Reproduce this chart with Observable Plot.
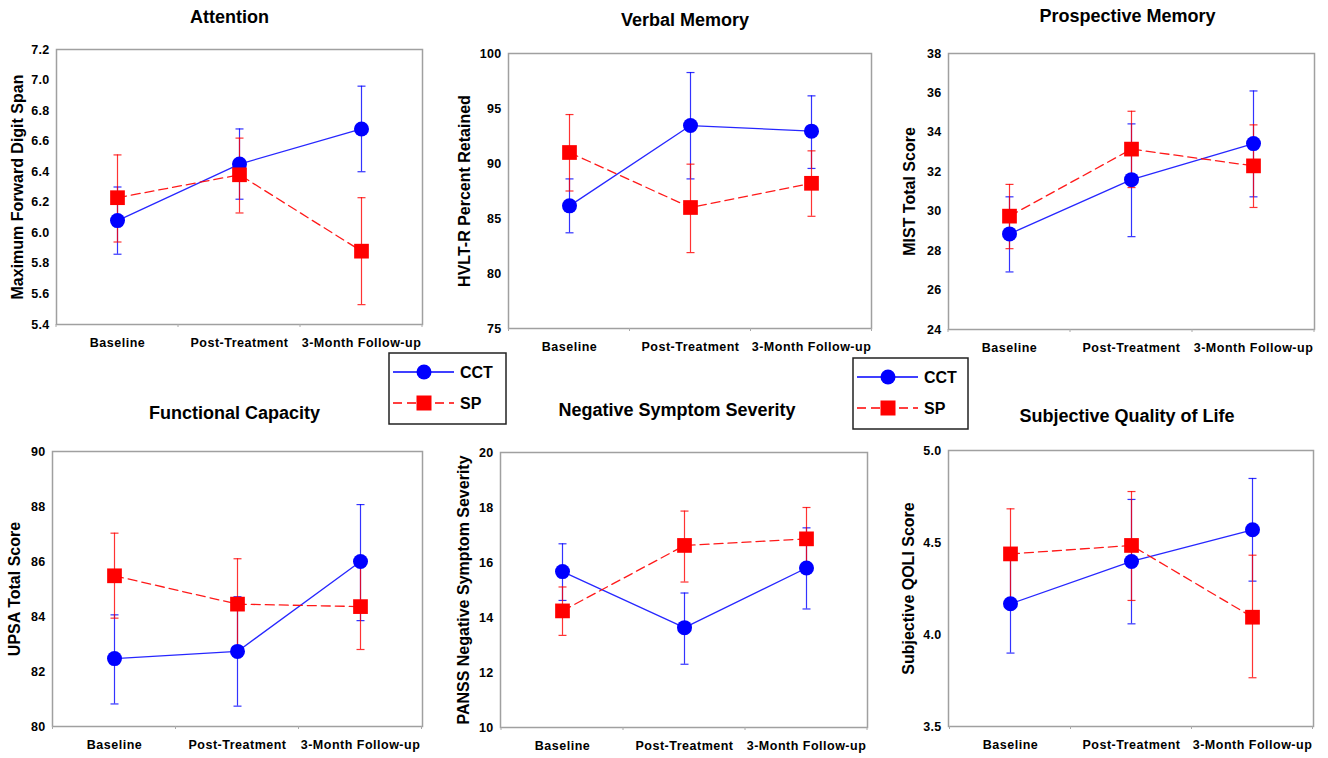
<!DOCTYPE html>
<html><head><meta charset="utf-8">
<script src="https://cdn.jsdelivr.net/npm/d3@7"></script>
<script src="https://cdn.jsdelivr.net/npm/@observablehq/plot@0.6"></script>
<style>
body{margin:0;background:#fff;}
#root{position:relative;width:1328px;height:758px;overflow:hidden;font-family:"Liberation Sans",Arial,sans-serif;background:#fff;}
#root svg{position:absolute;overflow:visible;}
#root svg text{font-weight:bold;}
#root g[aria-label="x-axis tick label"] text{letter-spacing:0.5px;}
#root g[aria-label="y-axis tick label"] text{letter-spacing:0.3px;}
</style></head><body><div id="root"></div>
<script>
// ---------- data ----------
const phases = ["Baseline", "Post-Treatment", "3-Month Follow-up"];
const groups = ["CCT", "SP"];
const titles = ["Attention", "Verbal Memory", "Prospective Memory", "Functional Capacity", "Negative Symptom Severity", "Subjective Quality of Life"];
const yLabels = ["Maximum Forward Digit Span", "HVLT-R Percent Retained", "MIST Total Score", "UPSA Total Score", "PANSS Negative Symptom Severity", "Subjective QOLI Score"];
const yDomains = [[5.4, 7.2], [75, 100], [24, 38], [80, 90], [10, 20], [3.5, 5.0]];
const yTicks = [
  [5.4, 5.6, 5.8, 6.0, 6.2, 6.4, 6.6, 6.8, 7.0, 7.2],
  [75, 80, 85, 90, 95, 100],
  [24, 26, 28, 30, 32, 34, 36, 38],
  [80, 82, 84, 86, 88, 90],
  [10, 12, 14, 16, 18, 20],
  [3.5, 4.0, 4.5, 5.0]
];
const yTickFormats = [".1f", "d", "d", "d", "d", ".1f"];

const attentionCCT = [6.08, 6.45, 6.68], attentionCCTLo = [5.86, 6.22, 6.40], attentionCCTHi = [6.30, 6.68, 6.96];
const attentionSP = [6.23, 6.38, 5.88], attentionSPLo = [5.94, 6.13, 5.53], attentionSPHi = [6.51, 6.62, 6.23];

const verbalCCT = [86.15, 93.45, 92.94], verbalCCTLo = [83.7, 88.6, 89.55], verbalCCTHi = [88.6, 98.27, 96.15];
const verbalSP = [91.0, 86.0, 88.2], verbalSPLo = [87.5, 81.9, 85.2], verbalSPHi = [94.45, 89.94, 91.15];

const prospectiveCCT = [28.85, 31.6, 33.43], prospectiveCCTLo = [26.92, 28.71, 30.73], prospectiveCCTHi = [30.73, 34.43, 36.1];
const prospectiveSP = [29.75, 33.15, 32.3], prospectiveSPLo = [28.1, 31.2, 30.19], prospectiveSPHi = [31.36, 35.07, 34.38];

const functionalCCT = [82.47, 82.73, 86.0], functionalCCTLo = [80.82, 80.74, 83.85], functionalCCTHi = [84.06, 84.72, 88.07];
const functionalSP = [85.48, 84.45, 84.36], functionalSPLo = [83.94, 82.8, 82.8], functionalSPHi = [87.03, 86.1, 85.92];

const negativeCCT = [15.67, 13.63, 15.8], negativeCCTLo = [14.62, 12.3, 14.31], negativeCCTHi = [16.68, 14.89, 17.26];
const negativeSP = [14.24, 16.62, 16.86], negativeSPLo = [13.35, 15.29, 15.73], negativeSPHi = [15.11, 17.87, 18.0];

const qolCCT = [4.167, 4.397, 4.569], qolCCTLo = [3.899, 4.058, 4.29], qolCCTHi = [4.435, 4.734, 4.848];
const qolSP = [4.438, 4.484, 4.094], qolSPLo = [4.193, 4.185, 3.765], qolSPHi = [4.683, 4.777, 4.431];

const cctSeries = [
  [attentionCCT, attentionCCTLo, attentionCCTHi],
  [verbalCCT, verbalCCTLo, verbalCCTHi],
  [prospectiveCCT, prospectiveCCTLo, prospectiveCCTHi],
  [functionalCCT, functionalCCTLo, functionalCCTHi],
  [negativeCCT, negativeCCTLo, negativeCCTHi],
  [qolCCT, qolCCTLo, qolCCTHi]
];
const spSeries = [
  [attentionSP, attentionSPLo, attentionSPHi],
  [verbalSP, verbalSPLo, verbalSPHi],
  [prospectiveSP, prospectiveSPLo, prospectiveSPHi],
  [functionalSP, functionalSPLo, functionalSPHi],
  [negativeSP, negativeSPLo, negativeSPHi],
  [qolSP, qolSPLo, qolSPHi]
];

// ---------- layout & style ----------
const BLUE = "#0000ff", RED = "#ff0000";
const layouts = [
  {left: 0,   top: 0,   width: 440, height: 360, mL: 56, mT: 49, mR: 18, mB: 36, titleDx: -10, titleDy: -32, labelDx: -39},
  {left: 440, top: 0,   width: 440, height: 360, mL: 68, mT: 53, mR: 9,  mB: 32, titleDx: -5,  titleDy: -33, labelDx: -44},
  {left: 880, top: 0,   width: 448, height: 360, mL: 68, mT: 53, mR: 14, mB: 31, titleDx: -4,  titleDy: -37, labelDx: -39},
  {left: 0,   top: 380, width: 440, height: 378, mL: 52, mT: 71, mR: 18, mB: 32, titleDx: -3,  titleDy: -38, labelDx: -38},
  {left: 440, top: 380, width: 440, height: 378, mL: 60, mT: 72, mR: 13, mB: 31, titleDx: -7,  titleDy: -42, labelDx: -37},
  {left: 880, top: 380, width: 448, height: 378, mL: 68, mT: 70, mR: 15, mB: 32, titleDx: -4,  titleDy: -34, labelDx: -40}
];

const capSymbol = {draw(ctx) { ctx.moveTo(-4, 0); ctx.lineTo(4, 0); }};

function rows(series) {
  const [m, lo, hi] = series;
  return phases.map((p, i) => ({phase: p, mean: m[i], lo: lo[i], hi: hi[i]}));
}

// small boundary ticks between categories along the bottom frame
function bandTicks(index, scales, values, dims) {
  const xs = phases.map(p => scales.x(p));
  const step = xs[1] - xs[0];
  const bounds = [xs[0] - step / 2, ...xs.map(v => v + step / 2)];
  const yb = dims.height - dims.marginBottom;
  const g = d3.create("svg:g");
  for (const b of bounds) {
    g.append("line").attr("x1", b).attr("x2", b).attr("y1", yb).attr("y2", yb + 3)
      .attr("stroke", "#aaa").attr("stroke-width", 1);
  }
  return g.node();
}

const root = document.getElementById("root");

titles.forEach((title, k) => {
  const L = layouts[k];
  const cct = rows(cctSeries[k]);
  const sp = rows(spSeries[k]);
  const chart = Plot.plot({
    width: L.width, height: L.height,
    marginLeft: L.mL, marginTop: L.mT, marginRight: L.mR, marginBottom: L.mB,
    style: {background: "transparent", fontFamily: "'Liberation Sans', Arial, sans-serif", color: "#000", overflow: "visible"},
    x: {type: "point", domain: phases, padding: 0.5},
    y: {domain: yDomains[k]},
    marks: [
      Plot.frame({stroke: "#a0a0a0", strokeWidth: 1.5}),
      bandTicks,
      Plot.axisX({tickSize: 0, tickPadding: 14, fontSize: 12.5, label: null}),
      Plot.axisY({ticks: yTicks[k], tickFormat: d3.format(yTickFormats[k]), tickSize: 0, tickPadding: 7, fontSize: 12.5, label: null}),
      // error bars
      Plot.ruleX(cct, {x: "phase", y1: "lo", y2: "hi", stroke: BLUE, strokeWidth: 1.2, strokeOpacity: 0.8}),
      Plot.dot(cct, {x: "phase", y: "lo", symbol: capSymbol, stroke: BLUE, strokeWidth: 1.2, strokeOpacity: 0.8}),
      Plot.dot(cct, {x: "phase", y: "hi", symbol: capSymbol, stroke: BLUE, strokeWidth: 1.2, strokeOpacity: 0.8}),
      Plot.ruleX(sp, {x: "phase", y1: "lo", y2: "hi", stroke: RED, strokeWidth: 1.2, strokeOpacity: 0.8}),
      Plot.dot(sp, {x: "phase", y: "lo", symbol: capSymbol, stroke: RED, strokeWidth: 1.2, strokeOpacity: 0.8}),
      Plot.dot(sp, {x: "phase", y: "hi", symbol: capSymbol, stroke: RED, strokeWidth: 1.2, strokeOpacity: 0.8}),
      // lines
      Plot.line(cct, {x: "phase", y: "mean", stroke: BLUE, strokeWidth: 1.3, strokeOpacity: 0.85}),
      Plot.line(sp, {x: "phase", y: "mean", stroke: RED, strokeWidth: 1.3, strokeDasharray: "9,5", strokeOpacity: 0.9}),
      // markers
      Plot.dot(cct, {x: "phase", y: "mean", r: 7.5, fill: BLUE, stroke: null}),
      Plot.dot(sp, {x: "phase", y: "mean", r: 8.3, symbol: "square", fill: RED, stroke: null}),
      // title and y label
      Plot.text([title], {frameAnchor: "top", text: d => d, dx: L.titleDx, dy: L.titleDy, fontSize: 18, lineAnchor: "middle"}),
      Plot.text([yLabels[k]], {frameAnchor: "left", text: d => d, rotate: -90, dx: L.labelDx, fontSize: 16, textAnchor: "middle", lineAnchor: "middle"})
    ]
  });
  chart.style.left = L.left + "px";
  chart.style.top = L.top + "px";
  root.appendChild(chart);
});

// ---------- legends ----------
const legendBoxes = [{x: 388, y: 352, w: 117, h: 71}, {x: 852, y: 357, w: 115, h: 71}];
legendBoxes.forEach(b => {
  const svg = d3.select(root).append("svg")
    .attr("width", b.w + 4).attr("height", b.h + 4)
    .style("left", b.x + "px").style("top", b.y + "px");
  svg.append("rect").attr("x", 1).attr("y", 1).attr("width", b.w).attr("height", b.h)
    .attr("fill", "#fff").attr("stroke", "#222").attr("stroke-width", 1.5);
  groups.forEach((gname, i) => {
    const cy = 20 + i * 31;
    const color = i === 0 ? BLUE : RED;
    svg.append("line").attr("x1", 5).attr("x2", 66).attr("y1", cy).attr("y2", cy)
      .attr("stroke", color).attr("stroke-width", 1.3)
      .attr("stroke-dasharray", i === 0 ? null : "9,5");
    if (i === 0) {
      svg.append("circle").attr("cx", 36).attr("cy", cy).attr("r", 7.5).attr("fill", color);
    } else {
      svg.append("rect").attr("x", 36 - 7.5).attr("y", cy - 7.5).attr("width", 15).attr("height", 15).attr("fill", color);
    }
    svg.append("text").attr("x", 72).attr("y", cy).attr("dy", "0.36em")
      .attr("font-size", 16).attr("font-family", "'Liberation Sans', Arial, sans-serif")
      .attr("font-weight", "bold").text(gname);
  });
});
</script>
</body></html>
